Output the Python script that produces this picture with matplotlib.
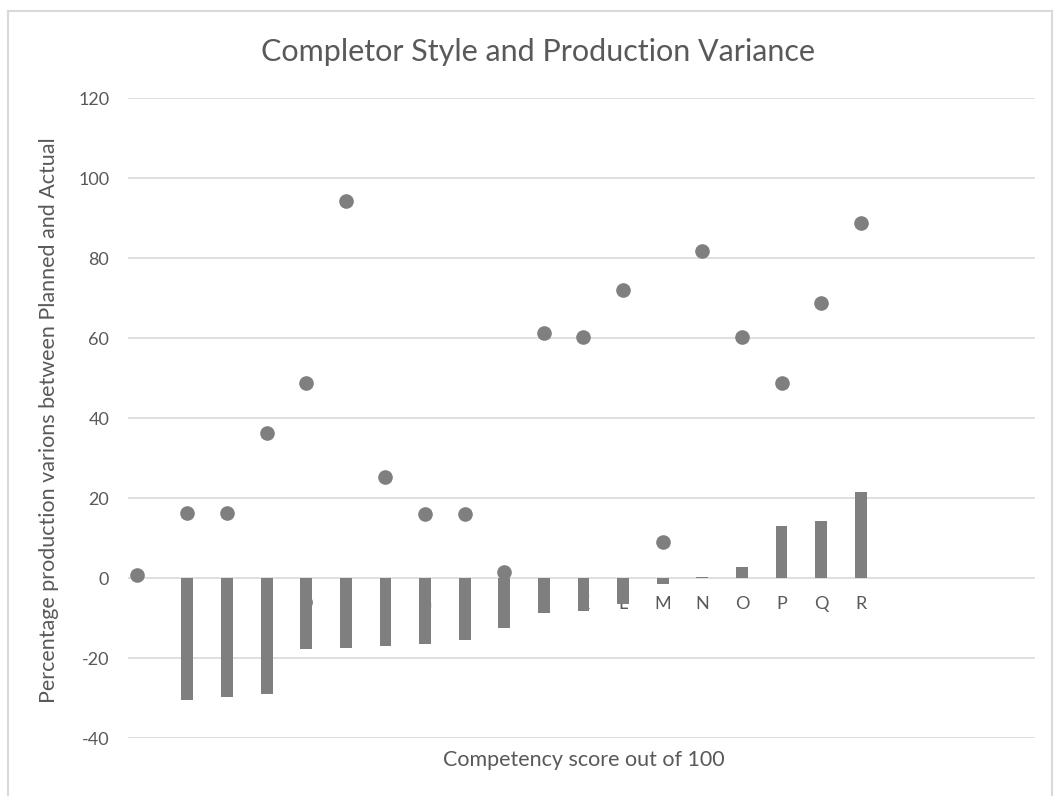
import matplotlib
matplotlib.use('Agg')
import matplotlib.pyplot as plt
from matplotlib.lines import Line2D

# competency groups A..R and their production variance (bars)
categories = ['A', 'B', 'C', 'D', 'E', 'F', 'G', 'H', 'I',
              'J', 'K', 'L', 'M', 'N', 'O', 'P', 'Q', 'R']
cat_pos = list(range(1, 19))
variance = [-30.3, -29.6, -28.9, -17.7, -17.4, -17.0, -16.4, -15.5, -12.4,
            -8.6, -8.2, -6.3, -1.5, 0.4, 2.8, 13.0, 14.3, 21.5]

# completor style scores (dots)
dot_x = [-0.28] + cat_pos
dot_y = [0.8, 16.3, 16.3, 36.3, 48.8, 94.3, 25.3, 16.2, 16.2, 1.5,
         61.3, 60.3, 72.0, 9.1, 81.8, 60.3, 48.7, 68.9, 88.8]

yticks = [-40, -20, 0, 20, 40, 60, 80, 100, 120]

TEXT = '#595959'
GREY = '#7f7f7f'
GRID = '#d9d9d9'

plt.rcParams['font.family'] = ['Lato', 'DejaVu Sans']
plt.rcParams['axes.unicode_minus'] = False

fig = plt.figure(figsize=(10.54, 7.96), dpi=100)
ax = fig.add_axes([128 / 1054, 1 - 738.3 / 796, (1035 - 128) / 1054, 640 / 796])
ax.set_axisbelow(True)

ax.bar(cat_pos, variance, width=0.3, color=GREY, zorder=2)
ax.plot(dot_x, dot_y, 'o', color=GREY, markersize=9.5, zorder=3)

ax.set_xlim(-0.5, 22.4)
ax.set_ylim(-40, 120)
ax.set_yticks(yticks)
ax.yaxis.grid(True, color=GRID, linewidth=1.2)
ax.set_xticks(cat_pos)
ax.set_xticklabels(categories)

for side in ['top', 'right', 'left']:
    ax.spines[side].set_visible(False)
ax.spines['bottom'].set_position(('data', 0))
ax.spines['bottom'].set_visible(False)

ax.tick_params(axis='y', length=0, pad=13.5, labelsize=13, labelcolor=TEXT)
ax.tick_params(axis='x', length=0, pad=13, labelsize=13, labelcolor=TEXT)

fig.text(538 / 1054, 1 - 52 / 796, 'Completor Style and Production Variance',
         ha='center', va='center', fontsize=22, color=TEXT)
fig.text(584 / 1054, 1 - 760 / 796, 'Competency score out of 100',
         ha='center', va='center', fontsize=15.5, color=TEXT)
fig.text(49 / 1054, 1 - 420 / 796,
         'Percentage production varions between Planned and Actual',
         ha='center', va='center', rotation=90, fontsize=15.5, color=TEXT)

# light frame around the chart
for xs, ys in [([8, 8], [11, 796]), ([8, 1052], [11, 11]), ([1052, 1052], [11, 796])]:
    fig.add_artist(Line2D([x / 1054 for x in xs], [1 - y / 796 for y in ys],
                          color=GRID, linewidth=1.5))

fig.savefig('out.png', dpi=100, facecolor='white')
